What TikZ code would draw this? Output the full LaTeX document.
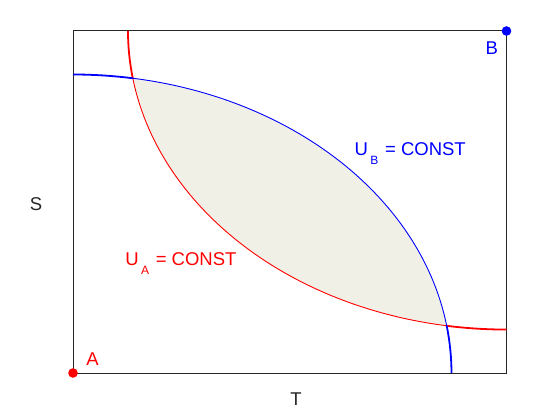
\documentclass[tikz,border=0pt]{standalone}
\usepackage{fontspec}
\setmainfont{Liberation Sans}
\definecolor{lensfill}{RGB}{241,240,230}
\definecolor{framegray}{RGB}{38,38,38}
\begin{document}
\begin{tikzpicture}[x=1pt,y=-1pt,
  frame/.style={draw=framegray, line width=1pt},
  thickcurve/.style={line width=1.8pt},
  thincurve/.style={line width=0.9pt},
  ell/.style={x radius=378.5, y radius=298.5},
  lbl/.style={font=\fontsize{18.5}{20}\selectfont, inner sep=0pt},
  dotmark/.style={circle, inner sep=0pt, minimum size=9.6pt}]
\useasboundingbox (0,0) rectangle (560,420);
% corners / ellipse centres and intersection points
\coordinate (cA) at (73,373);
\coordinate (cB) at (506.5,31);
\coordinate (I1) at (132.8,78.2);
\coordinate (I2) at (446.7,325.8);
\coordinate (redTop) at (128,31);
\coordinate (redRight) at (506.5,329.5);
\coordinate (blueLeft) at (73,74.5);
\coordinate (blueBottom) at (451.5,373);
% lens region
\fill[lensfill] (I1) arc[ell, start angle=170.903, end angle=99.097]
  -- (I2) arc[ell, start angle=-9.097, end angle=-80.903] -- cycle;
% frame
\draw[frame] (cA |- cB) rectangle (cB |- cA);
% red curve U_A (ellipse centred at B)
\draw[red, thickcurve] (redTop) arc[ell, start angle=180, end angle=170.903];
\draw[red, thincurve] (I1) arc[ell, start angle=170.903, end angle=99.097];
\draw[red, thickcurve] (I2) arc[ell, start angle=99.097, end angle=90];
% blue curve U_B (ellipse centred at A)
\draw[blue, thickcurve] (blueLeft) arc[ell, start angle=-90, end angle=-80.903];
\draw[blue, thincurve] (I2) arc[ell, start angle=-9.097, end angle=-80.903];
\draw[blue, thickcurve] (I2) arc[ell, start angle=-9.097, end angle=0];
% endpoints
\node[dotmark, fill=red] (dotA) at (cA) {};
\node[dotmark, fill=blue] (dotB) at (cB) {};
% labels
\node[lbl, text=red, anchor=base] (labA) at (92.5,365) {A};
\node[lbl, text=blue, anchor=base] (labB) at (491.7,55) {B};
\node[lbl, text=framegray, anchor=base] (labS) at (36,210) {S};
\node[lbl, text=framegray, anchor=base] (labT) at (296,405.7) {T};
\node[lbl, text=red, anchor=base west] (labUA) at (125.2,265.3) {U\kern2.4pt\raisebox{-9.4pt}{\fontsize{12}{13}\selectfont A}\kern1.5pt{} = CONST};
\node[lbl, text=blue, anchor=base west] (labUB) at (354.5,155) {U\kern2.4pt\raisebox{-9.4pt}{\fontsize{12}{13}\selectfont B}\kern1.5pt{} = CONST};
\end{tikzpicture}
\end{document}
